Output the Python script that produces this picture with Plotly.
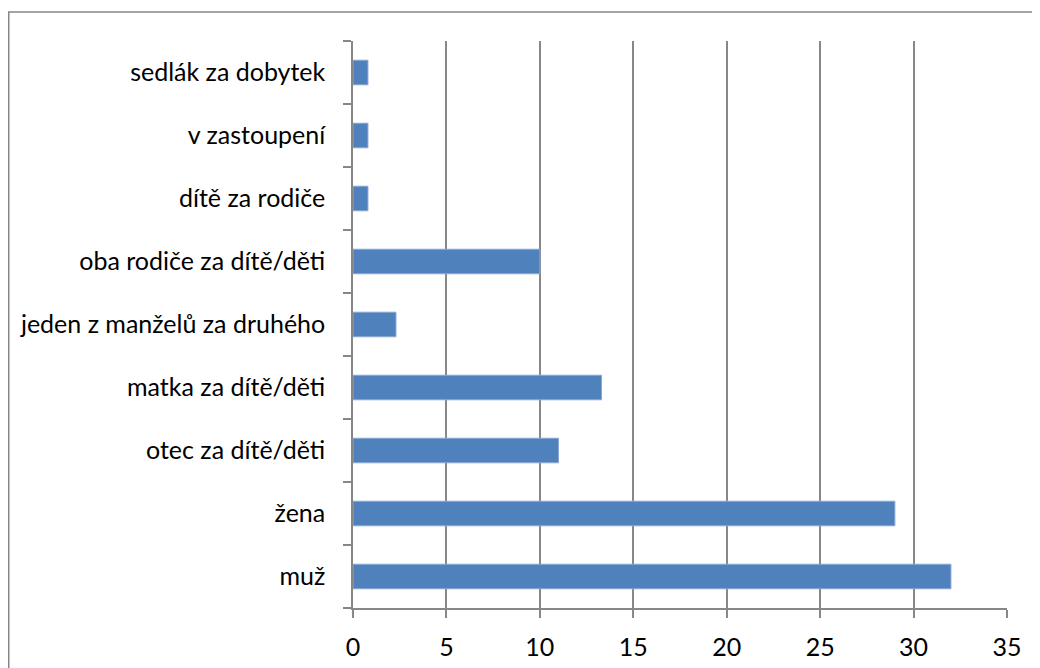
import plotly.graph_objects as go

# ── Data ──────────────────────────────────────────────────────────────────────
categories = [
    "muž",
    "žena",
    "otec za dítě/děti",
    "matka za dítě/děti",
    "jeden z manželů za druhého",
    "oba rodiče za dítě/děti",
    "dítě za rodiče",
    "v zastoupení",
    "sedlák za dobytek",
]
values = [32, 29, 11, 13.3, 2.3, 10, 0.8, 0.8, 0.8]
x_ticks = [0, 5, 10, 15, 20, 25, 30, 35]

# ── Style ─────────────────────────────────────────────────────────────────────
BAR = "#4F81BD"
BAR_EDGE = "#8AA8D3"
GRID = "#878787"
FONT = "Lato"

fig = go.Figure(
    go.Bar(
        x=values, y=categories,
        orientation="h",
        marker=dict(color=BAR, line=dict(color=BAR_EDGE, width=1)),
        width=0.39,
        hoverinfo="x+y",
    )
)

# page has an 8px body margin, so the figure is 8px smaller and shifted
fig.update_layout(
    width=1032, height=660,
    paper_bgcolor="white", plot_bgcolor="white",
    margin=dict(l=345, r=33, t=33, b=60, autoexpand=False),
    font=dict(family=FONT, size=25, color="black"),
    showlegend=False,
)

fig.update_xaxes(
    range=[0, 35], tickvals=x_ticks,
    showgrid=True, gridcolor=GRID, gridwidth=1.5,
    showline=True, linecolor=GRID, linewidth=1.5,
    ticks="outside", ticklen=8, tickcolor=GRID, tickwidth=1.5,
    zeroline=False, ticklabelstandoff=8,
)
fig.update_yaxes(
    range=[-0.5, 8.5],
    showgrid=False,
    showline=True, linecolor=GRID, linewidth=1.5,
    ticks="outside", ticklen=8, tickcolor=GRID, tickwidth=1.5,
    tickson="boundaries", ticklabelstandoff=21,
)

# chart-area border (right and bottom edges fall outside the window)
fig.add_shape(
    type="rect", xref="paper", yref="paper",
    x0=-0.5264, x1=1.2, y0=-0.3, y1=1.051,
    line=dict(color="#868686", width=1.5),
    layer="below",
)

fig.write_html("out.html")
